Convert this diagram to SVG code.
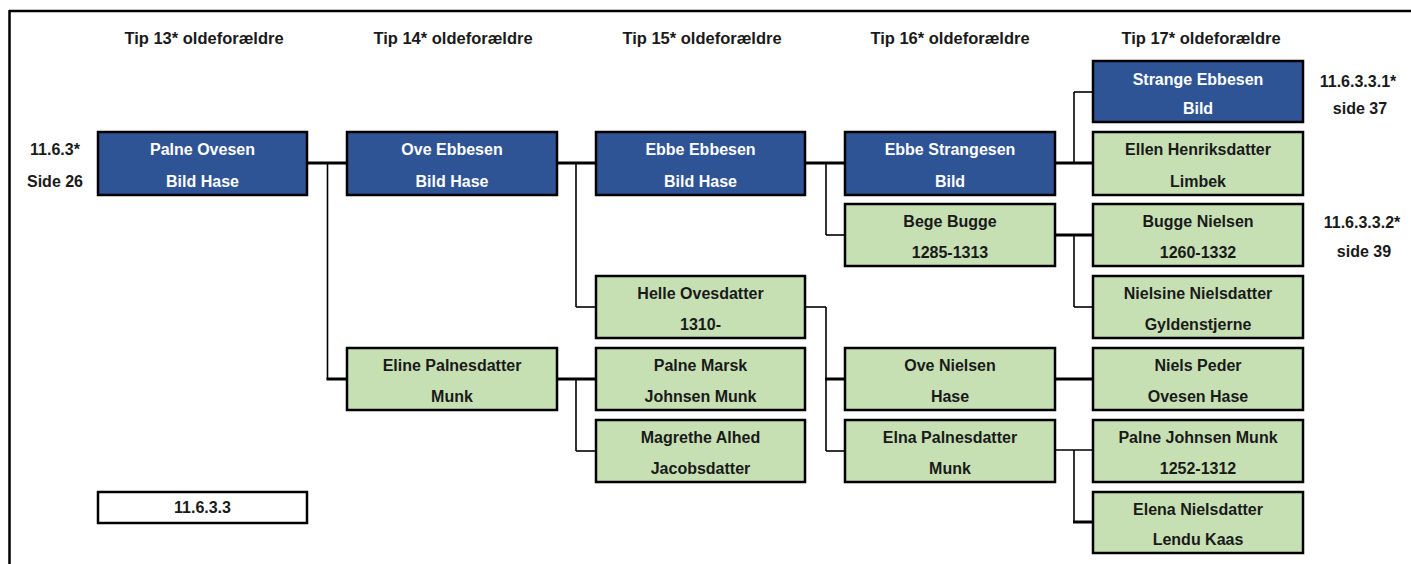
<svg xmlns="http://www.w3.org/2000/svg" width="1411" height="564" viewBox="0 0 1411 564">
<style>
.hdr{font-family:"Liberation Sans",Arial,sans-serif;font-weight:bold;font-size:16.5px;fill:#1a1a1a;text-anchor:middle}
.lbl{font-family:"Liberation Sans",Arial,sans-serif;font-weight:bold;font-size:16px;fill:#1a1a1a;text-anchor:middle}
.t{font-family:"Liberation Sans",Arial,sans-serif;font-weight:bold;font-size:16px;text-anchor:middle}
.blue rect{fill:#2F5496;stroke:#000;stroke-width:2.5}
.blue text{fill:#fff}
.green rect{fill:#C6E0B4;stroke:#000;stroke-width:2.5}
.green text{fill:#1a1a1a}
.white rect{fill:#fff;stroke:#000;stroke-width:2.5}
.white text{fill:#1a1a1a}
.thick{stroke:#000;stroke-width:3;fill:none}
.thin{stroke:#000;stroke-width:1.6;fill:none}
</style>
<rect width="1411" height="564" fill="#fff"/>
<g id="frame">
<line x1="9" y1="11" x2="1411" y2="11" stroke="#000" stroke-width="2.5"/>
<line x1="9.5" y1="10" x2="9.5" y2="564" stroke="#000" stroke-width="2.5"/>
</g>
<g id="headers">
<text class="hdr" x="204" y="44">Tip 13* oldeforældre</text>
<text class="hdr" x="453" y="44">Tip 14* oldeforældre</text>
<text class="hdr" x="702" y="44">Tip 15* oldeforældre</text>
<text class="hdr" x="950" y="44">Tip 16* oldeforældre</text>
<text class="hdr" x="1201" y="44">Tip 17* oldeforældre</text>
</g>
<g id="labels">
<text class="lbl" x="55" y="155">11.6.3*</text>
<text class="lbl" x="55" y="187">Side 26</text>
<text class="lbl" x="1358" y="87">11.6.3.3.1*</text>
<text class="lbl" x="1360" y="114">side 37</text>
<text class="lbl" x="1362" y="228">11.6.3.3.2*</text>
<text class="lbl" x="1364" y="257">side 39</text>
</g>
<g id="connectors">
<line class="thick" x1="307" y1="163" x2="347" y2="163"/>
<line class="thin" x1="327.5" y1="163" x2="327.5" y2="379"/>
<line class="thick" x1="326.5" y1="379" x2="347" y2="379"/>

<line class="thick" x1="557" y1="163" x2="596" y2="163"/>
<line class="thin" x1="576" y1="163" x2="576" y2="307"/>
<line class="thin" x1="576" y1="307" x2="596" y2="307"/>

<line class="thick" x1="557" y1="379" x2="596" y2="379"/>
<line class="thin" x1="576" y1="379" x2="576" y2="451"/>
<line class="thin" x1="576" y1="451" x2="596" y2="451"/>

<line class="thick" x1="805" y1="163" x2="845" y2="163"/>
<line class="thin" x1="826" y1="163" x2="826" y2="235"/>
<line class="thin" x1="826" y1="235" x2="845" y2="235"/>

<line class="thin" x1="805" y1="307" x2="826" y2="307"/>
<line class="thin" x1="826" y1="307" x2="826" y2="451"/>
<line class="thick" x1="825" y1="379" x2="845" y2="379"/>
<line class="thin" x1="826" y1="451" x2="845" y2="451"/>

<line class="thick" x1="1055" y1="163" x2="1093" y2="163"/>
<line class="thin" x1="1074" y1="92" x2="1074" y2="163"/>
<line class="thin" x1="1074" y1="92" x2="1093" y2="92"/>

<line class="thick" x1="1055" y1="235" x2="1093" y2="235"/>
<line class="thin" x1="1074" y1="235" x2="1074" y2="307"/>
<line class="thin" x1="1074" y1="307" x2="1093" y2="307"/>

<line class="thick" x1="1055" y1="379" x2="1093" y2="379"/>

<line class="thin" x1="1055" y1="450" x2="1093" y2="450"/>
<line class="thin" x1="1074" y1="450" x2="1074" y2="522"/>
<line class="thick" x1="1073" y1="522" x2="1093" y2="522"/>
</g>

<g id="palne-ovesen" class="blue"><rect x="98" y="132" width="209" height="63"/><text class="t" x="202.5" y="155">Palne Ovesen</text><text class="t" x="202.5" y="187">Bild Hase</text></g>
<g id="ref-11633" class="white"><rect x="98" y="492" width="209" height="31"/><text class="t" x="202.5" y="513">11.6.3.3</text></g>

<g id="ove-ebbesen" class="blue"><rect x="347" y="132" width="210" height="63"/><text class="t" x="452" y="155">Ove Ebbesen</text><text class="t" x="452" y="187">Bild Hase</text></g>
<g id="eline-palnesdatter" class="green"><rect x="347" y="348" width="210" height="62"/><text class="t" x="452" y="371">Eline Palnesdatter</text><text class="t" x="452" y="402">Munk</text></g>

<g id="ebbe-ebbesen" class="blue"><rect x="596" y="132" width="209" height="63"/><text class="t" x="700.5" y="155">Ebbe Ebbesen</text><text class="t" x="700.5" y="187">Bild Hase</text></g>
<g id="helle-ovesdatter" class="green"><rect x="596" y="276" width="209" height="62"/><text class="t" x="700.5" y="299">Helle Ovesdatter</text><text class="t" x="700.5" y="330">1310-</text></g>
<g id="palne-marsk" class="green"><rect x="596" y="348" width="209" height="62"/><text class="t" x="700.5" y="371">Palne Marsk</text><text class="t" x="700.5" y="402">Johnsen Munk</text></g>
<g id="magrethe-alhed" class="green"><rect x="596" y="420" width="209" height="62"/><text class="t" x="700.5" y="443">Magrethe Alhed</text><text class="t" x="700.5" y="474">Jacobsdatter</text></g>

<g id="ebbe-strangesen" class="blue"><rect x="845" y="132" width="210" height="63"/><text class="t" x="950" y="155">Ebbe Strangesen</text><text class="t" x="950" y="187">Bild</text></g>
<g id="bege-bugge" class="green"><rect x="845" y="204" width="210" height="62"/><text class="t" x="950" y="227">Bege Bugge</text><text class="t" x="950" y="258">1285-1313</text></g>
<g id="ove-nielsen" class="green"><rect x="845" y="348" width="210" height="62"/><text class="t" x="950" y="371">Ove Nielsen</text><text class="t" x="950" y="402">Hase</text></g>
<g id="elna-palnesdatter" class="green"><rect x="845" y="420" width="210" height="62"/><text class="t" x="950" y="443">Elna Palnesdatter</text><text class="t" x="950" y="474">Munk</text></g>

<g id="strange-ebbesen" class="blue"><rect x="1093" y="61" width="210" height="61"/><text class="t" x="1198" y="85">Strange Ebbesen</text><text class="t" x="1198" y="114">Bild</text></g>
<g id="ellen-henriksdatter" class="green"><rect x="1093" y="132" width="210" height="63"/><text class="t" x="1198" y="155">Ellen Henriksdatter</text><text class="t" x="1198" y="187">Limbek</text></g>
<g id="bugge-nielsen" class="green"><rect x="1093" y="204" width="210" height="62"/><text class="t" x="1198" y="227">Bugge Nielsen</text><text class="t" x="1198" y="258">1260-1332</text></g>
<g id="nielsine-nielsdatter" class="green"><rect x="1093" y="276" width="210" height="62"/><text class="t" x="1198" y="299">Nielsine Nielsdatter</text><text class="t" x="1198" y="330">Gyldenstjerne</text></g>
<g id="niels-peder" class="green"><rect x="1093" y="348" width="210" height="62"/><text class="t" x="1198" y="371">Niels Peder</text><text class="t" x="1198" y="402">Ovesen Hase</text></g>
<g id="palne-johnsen-munk" class="green"><rect x="1093" y="420" width="210" height="62"/><text class="t" x="1198" y="443">Palne Johnsen Munk</text><text class="t" x="1198" y="474">1252-1312</text></g>
<g id="elena-nielsdatter" class="green"><rect x="1093" y="492" width="210" height="61"/><text class="t" x="1198" y="515">Elena Nielsdatter</text><text class="t" x="1198" y="545">Lendu Kaas</text></g>
</svg>
